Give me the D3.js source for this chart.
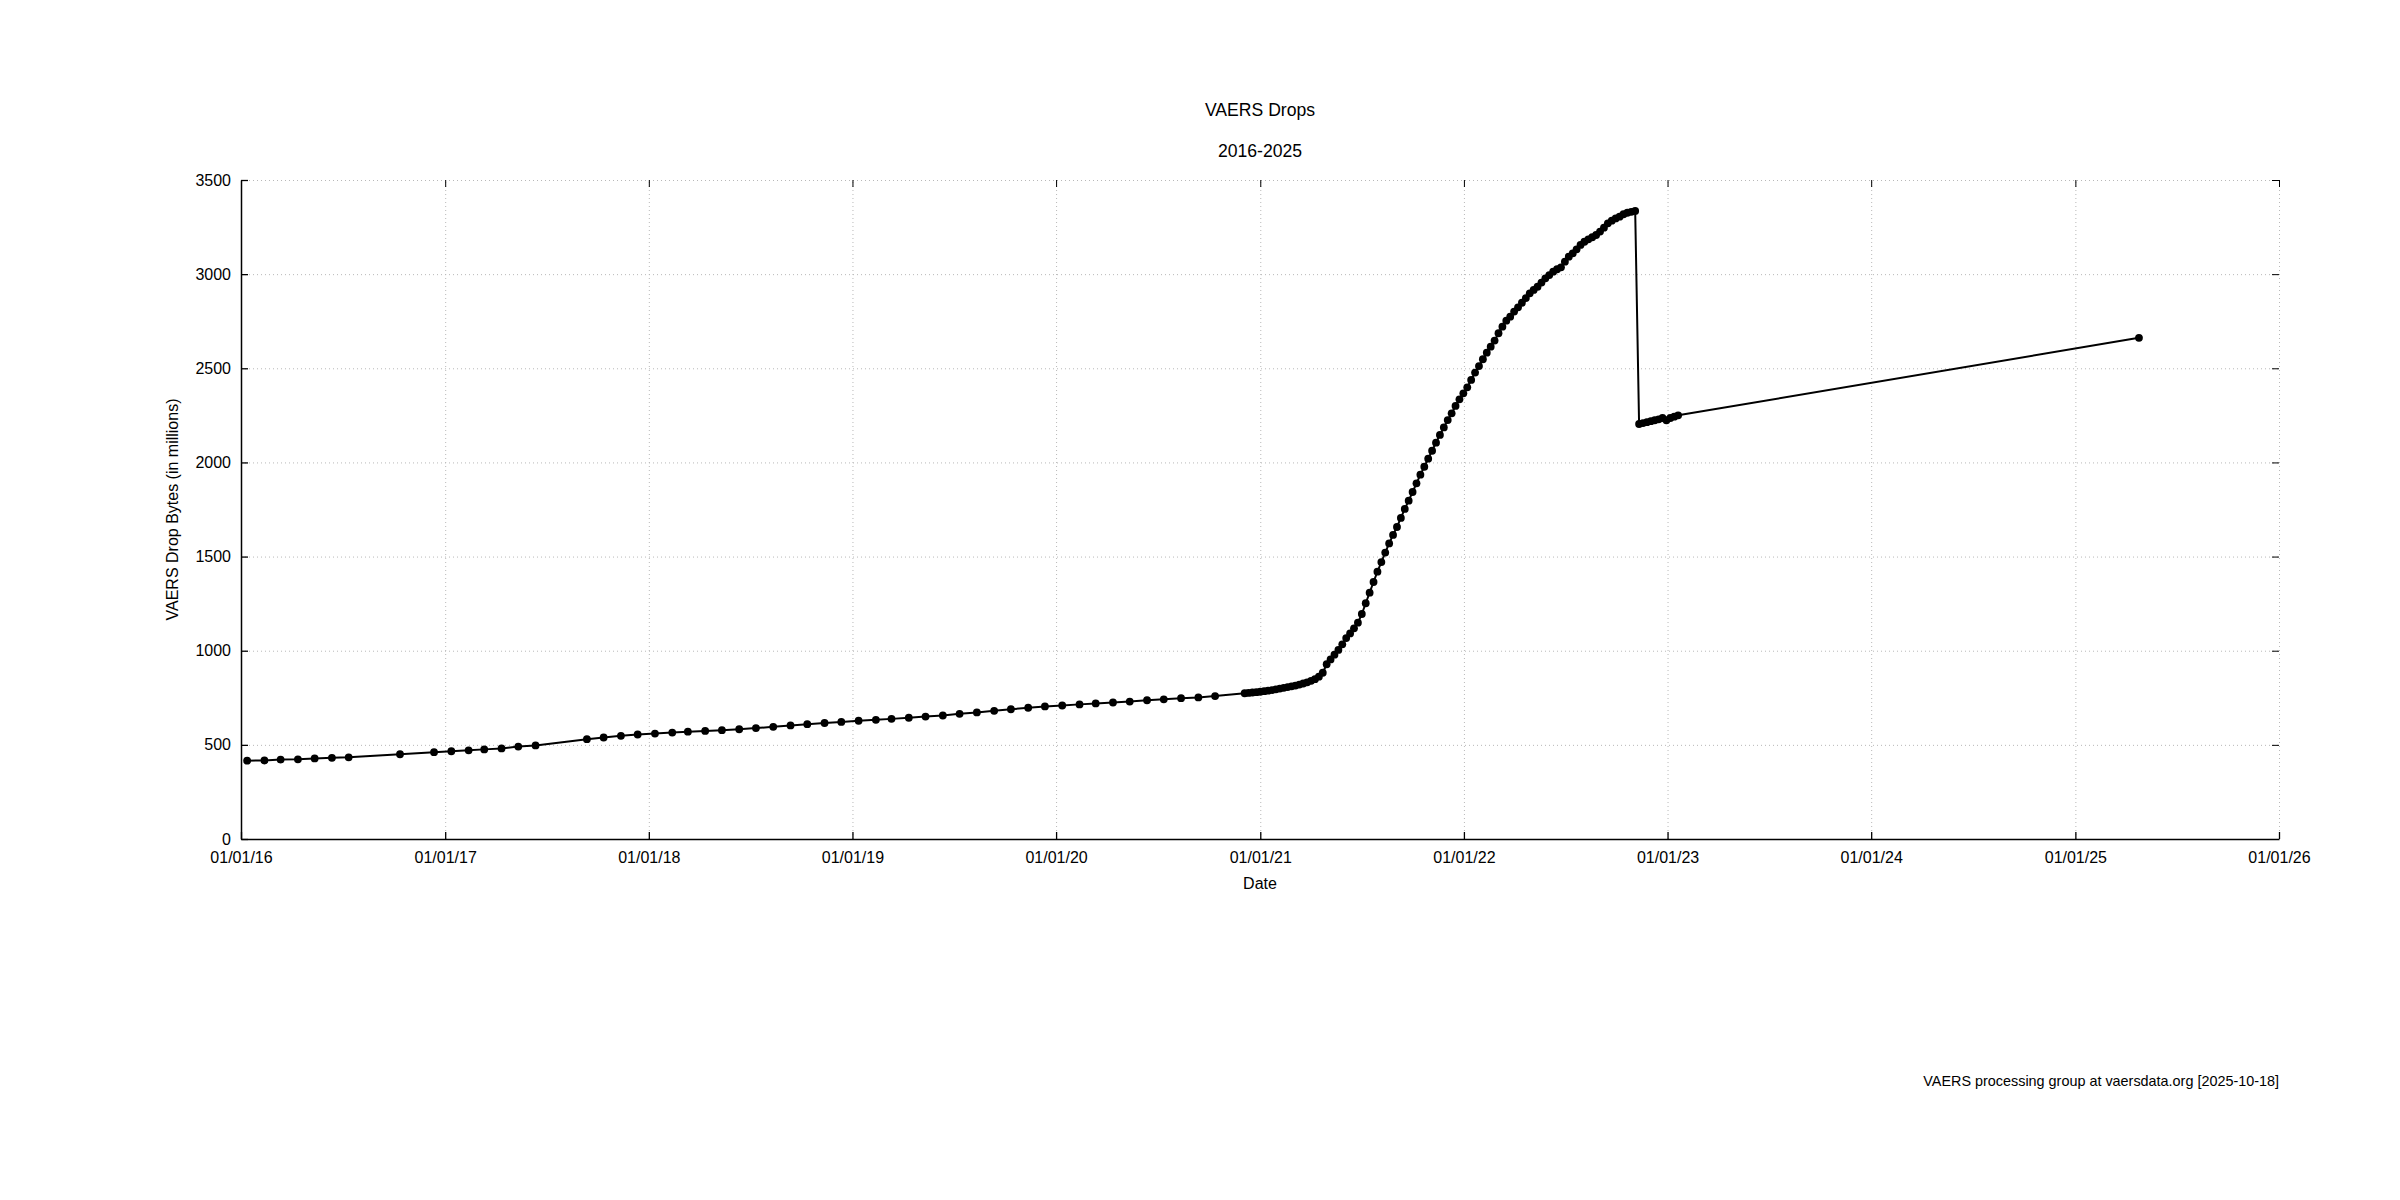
<!DOCTYPE html>
<html>
<head>
<meta charset="utf-8">
<title>VAERS Drops</title>
<script src="https://cdn.jsdelivr.net/npm/d3@7"></script>
<style>
    body { margin: 0; background: #fff; }
    #graph text { font-family: "Liberation Sans", Arial, sans-serif; fill: #000; }
    .grid line { stroke: #b8b8b8; stroke-width: 1; stroke-dasharray: 1,3; }
    .grid path { display: none; }
    .line { fill: none; stroke: #000; stroke-width: 2; stroke-linejoin: round; }
</style>
</head>
<body>
<div id="graph"></div>
<script>
// Drop dates (monthly until late 2020, weekly afterwards)
var dropDates = [
    "2016-01-12", "2016-02-12", "2016-03-12", "2016-04-12", "2016-05-12", "2016-06-12", "2016-07-12", "2016-10-12", "2016-12-12",
    "2017-01-12", "2017-02-12", "2017-03-12", "2017-04-12", "2017-05-12", "2017-06-12", "2017-09-12", "2017-10-12", "2017-11-12", "2017-12-12",
    "2018-01-12", "2018-02-12", "2018-03-12", "2018-04-12", "2018-05-12", "2018-06-12", "2018-07-12", "2018-08-12", "2018-09-12", "2018-10-12", "2018-11-12", "2018-12-12",
    "2019-01-12", "2019-02-12", "2019-03-12", "2019-04-12", "2019-05-12", "2019-06-12", "2019-07-12", "2019-08-12", "2019-09-12", "2019-10-12", "2019-11-12", "2019-12-12",
    "2020-01-12", "2020-02-12", "2020-03-12", "2020-04-12", "2020-05-12", "2020-06-12", "2020-07-12", "2020-08-12", "2020-09-12", "2020-10-12",
    "2020-12-04", "2020-12-11", "2020-12-18", "2020-12-25",
    "2021-01-01", "2021-01-08", "2021-01-15", "2021-01-22", "2021-01-29", "2021-02-05", "2021-02-12", "2021-02-19", "2021-02-26",
    "2021-03-05", "2021-03-12", "2021-03-19", "2021-03-26", "2021-04-02", "2021-04-09", "2021-04-16", "2021-04-23", "2021-04-30",
    "2021-05-07", "2021-05-14", "2021-05-21", "2021-05-28", "2021-06-04", "2021-06-11", "2021-06-18", "2021-06-25", "2021-07-02", "2021-07-09",
    "2021-07-16", "2021-07-23", "2021-07-30", "2021-08-06", "2021-08-13", "2021-08-20", "2021-08-27", "2021-09-03", "2021-09-10", "2021-09-17", "2021-09-24",
    "2021-10-01", "2021-10-08", "2021-10-15", "2021-10-22", "2021-10-29", "2021-11-05", "2021-11-12", "2021-11-19", "2021-11-26",
    "2021-12-03", "2021-12-10", "2021-12-17", "2021-12-24", "2021-12-31",
    "2022-01-07", "2022-01-14", "2022-01-21", "2022-01-28", "2022-02-04", "2022-02-11", "2022-02-18", "2022-02-25",
    "2022-03-04", "2022-03-11", "2022-03-18", "2022-03-25", "2022-04-01", "2022-04-08", "2022-04-15", "2022-04-22", "2022-04-29",
    "2022-05-06", "2022-05-13", "2022-05-20", "2022-05-27", "2022-06-03", "2022-06-10", "2022-06-17", "2022-06-24",
    "2022-07-01", "2022-07-08", "2022-07-15", "2022-07-22", "2022-07-29", "2022-08-05", "2022-08-12", "2022-08-19", "2022-08-26",
    "2022-09-02", "2022-09-09", "2022-09-16", "2022-09-23", "2022-09-30", "2022-10-07", "2022-10-14", "2022-10-21", "2022-10-28", "2022-11-04",
    "2022-11-11", "2022-11-18", "2022-11-25", "2022-12-02", "2022-12-09", "2022-12-16", "2022-12-23", "2022-12-30",
    "2023-01-06", "2023-01-13", "2023-01-20",
    "2025-04-25"
];

// Drop size in millions of bytes, one per date above
var dropBytes = [
    416, 417, 422, 423, 428, 431, 434, 450, 461,
    466, 471, 476, 481, 491, 497, 530, 539, 548, 555,
    560, 565, 570, 574, 578, 583, 589, 596, 603, 610, 616, 622,
    628, 633, 638, 644, 650, 656, 665, 672, 681, 689, 697, 704,
    709, 715, 720, 725, 730, 737, 742, 748, 752, 759,
    774, 776, 778, 780,
    782, 785, 788, 791, 795, 799, 803, 807, 811,
    815, 820, 826, 832, 840, 849, 862, 883, 928,
    954, 979, 1004, 1034, 1067, 1092, 1119, 1149, 1195, 1252,
    1308, 1365, 1420, 1471, 1521, 1570, 1615, 1657, 1705, 1753, 1797,
    1843, 1889, 1935, 1977, 2020, 2062, 2105, 2146, 2186,
    2225, 2261, 2300, 2335, 2367,
    2399, 2438, 2477, 2512, 2548, 2583, 2615, 2647,
    2686, 2721, 2753, 2774, 2801, 2824, 2848, 2873, 2898,
    2916, 2933, 2955, 2978, 2995, 3013, 3026, 3036,
    3066, 3093, 3110, 3132, 3155, 3172, 3185, 3196, 3208,
    3226, 3247, 3270, 3284, 3296, 3305, 3318, 3326, 3331, 3336,
    2204, 2209, 2214, 2219, 2224, 2229, 2236, 2224,
    2236, 2243, 2250,
    2662
];

// Tick labels
var xTickDates = ["2016-01-01", "2017-01-01", "2018-01-01", "2019-01-01", "2020-01-01", "2021-01-01",
    "2022-01-01", "2023-01-01", "2024-01-01", "2025-01-01", "2026-01-01"];
var yTickValues = [0, 500, 1000, 1500, 2000, 2500, 3000, 3500];

var titleText = "VAERS Drops";
var subtitleText = "2016-2025";
var xLabel = "Date";
var yLabel = "VAERS Drop Bytes (in millions)";
var footerText = "VAERS processing group at vaersdata.org [2025-10-18]";

// Set SVG dimensions and plot box
var svgWidth = 2400, svgHeight = 1200;
var margin = { top: 180, right: 121, bottom: 361, left: 241 },
    width = svgWidth - margin.left - margin.right,
    height = svgHeight - margin.top - margin.bottom;

var parseTime = d3.utcParse("%Y-%m-%d"),
    formatTime = d3.utcFormat("%m/%d/%y");

var data = [];
for (var i = 0; i < dropDates.length; i++) {
    data.push({ "date": parseTime(dropDates[i]), "bytes": dropBytes[i] });
}
var xTicks = xTickDates.map(function (d) { return parseTime(d); });

// Setup ranges
var x = d3.scaleUtc().domain([xTicks[0], xTicks[xTicks.length - 1]]).range([0, width]),
    y = d3.scaleLinear().domain([0, 3500]).range([height, 0]);

var valueline = d3.line()
    .x(function (d) { return x(d.date); })
    .y(function (d) { return y(d.bytes); });

var svg = d3.select("#graph").append("svg")
    .attr("width", svgWidth)
    .attr("height", svgHeight);

var g = svg.append("g")
    .attr("transform", "translate(" + margin.left + "," + margin.top + ")");

// Dotted grid
g.append("g")
    .attr("class", "grid")
    .attr("transform", "translate(0," + height + ")")
    .call(d3.axisBottom(x).tickValues(xTicks.slice(1)).tickSize(-height).tickFormat(""));
g.append("g")
    .attr("class", "grid")
    .call(d3.axisLeft(y).tickValues(yTickValues.slice(1)).tickSize(-width).tickFormat(""));

// Mirrored ticks on top and right (no border line)
g.append("g")
    .call(d3.axisTop(x).tickValues(xTicks).tickSize(-7).tickFormat(""))
    .call(function (s) { s.select(".domain").remove(); });
g.append("g")
    .attr("transform", "translate(" + width + ",0)")
    .call(d3.axisRight(y).tickValues(yTickValues).tickSize(-7).tickFormat(""))
    .call(function (s) { s.select(".domain").remove(); });

// X axis
var xAxis = g.append("g")
    .attr("transform", "translate(0," + height + ")")
    .call(d3.axisBottom(x).tickValues(xTicks).tickSizeInner(-7).tickSizeOuter(0).tickPadding(12.5).tickFormat(formatTime));

// Y axis
var yAxis = g.append("g")
    .call(d3.axisLeft(y).tickValues(yTickValues).tickSizeInner(-7).tickSizeOuter(0).tickPadding(10).tickFormat(d3.format("d")));

[xAxis, yAxis].forEach(function (a) {
    a.selectAll("text").style("font-size", "16px");
    a.selectAll("line").attr("stroke", "#000").attr("stroke-width", 1.3);
    a.select(".domain").attr("stroke", "#000").attr("stroke-width", 1.5);
});

// Data line and points
g.append("path")
    .data([data])
    .attr("class", "line")
    .attr("d", valueline);

g.selectAll(".node")
    .data(data)
    .enter().append("circle")
    .attr("class", "node")
    .attr("r", 3.9)
    .attr("fill", "#000")
    .attr("cx", function (d) { return x(d.date); })
    .attr("cy", function (d) { return y(d.bytes); });

// Titles and labels
var cx = margin.left + width / 2;
svg.append("text").attr("x", cx).attr("y", 116).attr("text-anchor", "middle")
    .style("font-size", "17.6px").text(titleText);
svg.append("text").attr("x", cx).attr("y", 157).attr("text-anchor", "middle")
    .style("font-size", "17.6px").text(subtitleText);
svg.append("text").attr("x", cx).attr("y", 889).attr("text-anchor", "middle")
    .style("font-size", "16px").text(xLabel);
svg.append("text")
    .attr("transform", "translate(178," + (margin.top + height / 2) + ") rotate(-90)")
    .attr("text-anchor", "middle")
    .style("font-size", "16px").text(yLabel);
svg.append("text").attr("x", margin.left + width).attr("y", 1086).attr("text-anchor", "end")
    .style("font-size", "14.4px").text(footerText);
</script>
</body>
</html>
